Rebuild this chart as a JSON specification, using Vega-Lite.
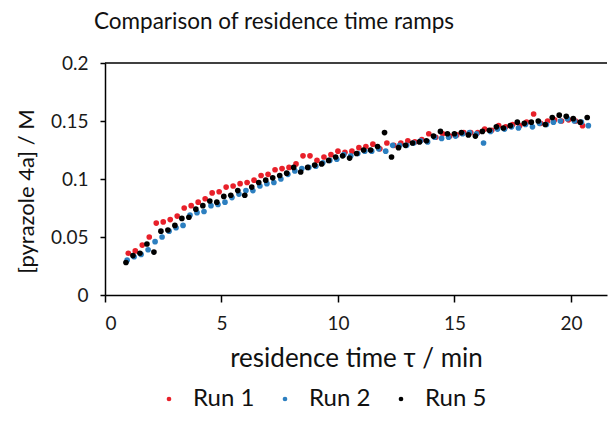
{
  "$schema": "https://vega.github.io/schema/vega-lite/v6.json",
  "width": 502,
  "height": 232,
  "autosize": {"type": "none"},
  "padding": {"left": 105, "top": 63, "right": 3, "bottom": 139},
  "background": "white",
  "title": {"text": "Comparison of residence time ramps", "font": "Lato", "fontSize": 22.5, "fontWeight": "normal", "color": "#111111", "anchor": "middle", "dx": -82, "offset": 21},
  "config": {"view": {"stroke": null}, "font": "Lato"},
  "layer": [
    {
      "data": {"values": [{"edge": "top"}]},
      "mark": {"type": "rule", "color": "black", "strokeWidth": 1.5},
      "encoding": {"y": {"datum": 0.2, "type": "quantitative"}}
    },
    {
      "data": {"values": [
        {"run":"Run 1","t":1.0,"c":0.036},{"run":"Run 1","t":1.3,"c":0.038},{"run":"Run 1","t":1.6,"c":0.043},{"run":"Run 1","t":1.9,"c":0.050},{"run":"Run 1","t":2.2,"c":0.062},{"run":"Run 1","t":2.5,"c":0.063},{"run":"Run 1","t":2.8,"c":0.065},{"run":"Run 1","t":3.1,"c":0.068},{"run":"Run 1","t":3.4,"c":0.075},{"run":"Run 1","t":3.7,"c":0.077},{"run":"Run 1","t":4.0,"c":0.080},{"run":"Run 1","t":4.3,"c":0.083},{"run":"Run 1","t":4.6,"c":0.088},{"run":"Run 1","t":4.9,"c":0.089},{"run":"Run 1","t":5.2,"c":0.093},{"run":"Run 1","t":5.5,"c":0.094},{"run":"Run 1","t":5.8,"c":0.096},{"run":"Run 1","t":6.1,"c":0.097},{"run":"Run 1","t":6.4,"c":0.099},{"run":"Run 1","t":6.7,"c":0.103},{"run":"Run 1","t":7.0,"c":0.104},{"run":"Run 1","t":7.3,"c":0.108},{"run":"Run 1","t":7.6,"c":0.109},{"run":"Run 1","t":7.9,"c":0.110},{"run":"Run 1","t":8.2,"c":0.113},{"run":"Run 1","t":8.5,"c":0.120},{"run":"Run 1","t":8.8,"c":0.120},{"run":"Run 1","t":9.1,"c":0.116},{"run":"Run 1","t":9.4,"c":0.119},{"run":"Run 1","t":9.7,"c":0.121},{"run":"Run 1","t":10.0,"c":0.124},{"run":"Run 1","t":10.3,"c":0.123},{"run":"Run 1","t":10.6,"c":0.124},{"run":"Run 1","t":10.9,"c":0.127},{"run":"Run 1","t":11.2,"c":0.128},{"run":"Run 1","t":11.5,"c":0.130},{"run":"Run 1","t":11.8,"c":0.126},{"run":"Run 1","t":12.1,"c":0.131},{"run":"Run 1","t":12.4,"c":0.129},{"run":"Run 1","t":12.7,"c":0.131},{"run":"Run 1","t":13.0,"c":0.133},{"run":"Run 1","t":13.3,"c":0.132},{"run":"Run 1","t":13.6,"c":0.134},{"run":"Run 1","t":13.9,"c":0.139},{"run":"Run 1","t":14.2,"c":0.136},{"run":"Run 1","t":14.5,"c":0.139},{"run":"Run 1","t":14.8,"c":0.137},{"run":"Run 1","t":15.1,"c":0.138},{"run":"Run 1","t":15.4,"c":0.140},{"run":"Run 1","t":15.7,"c":0.140},{"run":"Run 1","t":16.0,"c":0.140},{"run":"Run 1","t":16.3,"c":0.143},{"run":"Run 1","t":16.6,"c":0.142},{"run":"Run 1","t":16.9,"c":0.146},{"run":"Run 1","t":17.2,"c":0.145},{"run":"Run 1","t":17.5,"c":0.147},{"run":"Run 1","t":17.8,"c":0.146},{"run":"Run 1","t":18.1,"c":0.149},{"run":"Run 1","t":18.4,"c":0.156},{"run":"Run 1","t":18.7,"c":0.148},{"run":"Run 1","t":19.0,"c":0.150},{"run":"Run 1","t":19.3,"c":0.151},{"run":"Run 1","t":19.6,"c":0.150},{"run":"Run 1","t":19.9,"c":0.151},{"run":"Run 1","t":20.2,"c":0.150},{"run":"Run 1","t":20.5,"c":0.146},
        {"run":"Run 2","t":0.95,"c":0.030},{"run":"Run 2","t":1.25,"c":0.033},{"run":"Run 2","t":1.55,"c":0.035},{"run":"Run 2","t":1.85,"c":0.039},{"run":"Run 2","t":2.15,"c":0.046},{"run":"Run 2","t":2.45,"c":0.050},{"run":"Run 2","t":2.75,"c":0.055},{"run":"Run 2","t":3.05,"c":0.058},{"run":"Run 2","t":3.35,"c":0.060},{"run":"Run 2","t":3.65,"c":0.069},{"run":"Run 2","t":3.95,"c":0.071},{"run":"Run 2","t":4.25,"c":0.072},{"run":"Run 2","t":4.55,"c":0.077},{"run":"Run 2","t":4.85,"c":0.078},{"run":"Run 2","t":5.15,"c":0.080},{"run":"Run 2","t":5.45,"c":0.084},{"run":"Run 2","t":5.75,"c":0.087},{"run":"Run 2","t":6.05,"c":0.090},{"run":"Run 2","t":6.35,"c":0.090},{"run":"Run 2","t":6.65,"c":0.094},{"run":"Run 2","t":6.95,"c":0.096},{"run":"Run 2","t":7.25,"c":0.097},{"run":"Run 2","t":7.55,"c":0.100},{"run":"Run 2","t":7.85,"c":0.104},{"run":"Run 2","t":8.15,"c":0.107},{"run":"Run 2","t":8.45,"c":0.109},{"run":"Run 2","t":8.75,"c":0.110},{"run":"Run 2","t":9.05,"c":0.111},{"run":"Run 2","t":9.35,"c":0.114},{"run":"Run 2","t":9.65,"c":0.116},{"run":"Run 2","t":9.95,"c":0.117},{"run":"Run 2","t":10.25,"c":0.121},{"run":"Run 2","t":10.55,"c":0.120},{"run":"Run 2","t":10.85,"c":0.122},{"run":"Run 2","t":11.15,"c":0.124},{"run":"Run 2","t":11.45,"c":0.124},{"run":"Run 2","t":11.75,"c":0.126},{"run":"Run 2","t":12.05,"c":0.124},{"run":"Run 2","t":12.35,"c":0.129},{"run":"Run 2","t":12.65,"c":0.129},{"run":"Run 2","t":12.95,"c":0.129},{"run":"Run 2","t":13.25,"c":0.131},{"run":"Run 2","t":13.55,"c":0.133},{"run":"Run 2","t":13.85,"c":0.132},{"run":"Run 2","t":14.15,"c":0.136},{"run":"Run 2","t":14.45,"c":0.135},{"run":"Run 2","t":14.75,"c":0.136},{"run":"Run 2","t":15.05,"c":0.137},{"run":"Run 2","t":15.35,"c":0.139},{"run":"Run 2","t":15.65,"c":0.140},{"run":"Run 2","t":15.95,"c":0.139},{"run":"Run 2","t":16.25,"c":0.131},{"run":"Run 2","t":16.55,"c":0.141},{"run":"Run 2","t":16.85,"c":0.143},{"run":"Run 2","t":17.15,"c":0.143},{"run":"Run 2","t":17.45,"c":0.145},{"run":"Run 2","t":17.75,"c":0.144},{"run":"Run 2","t":18.05,"c":0.147},{"run":"Run 2","t":18.35,"c":0.145},{"run":"Run 2","t":18.65,"c":0.148},{"run":"Run 2","t":18.95,"c":0.147},{"run":"Run 2","t":19.25,"c":0.149},{"run":"Run 2","t":19.55,"c":0.150},{"run":"Run 2","t":19.85,"c":0.152},{"run":"Run 2","t":20.15,"c":0.150},{"run":"Run 2","t":20.45,"c":0.149},{"run":"Run 2","t":20.75,"c":0.146},
        {"run":"Run 5","t":0.9,"c":0.028},{"run":"Run 5","t":1.2,"c":0.034},{"run":"Run 5","t":1.5,"c":0.036},{"run":"Run 5","t":1.8,"c":0.044},{"run":"Run 5","t":2.1,"c":0.037},{"run":"Run 5","t":2.4,"c":0.055},{"run":"Run 5","t":2.7,"c":0.056},{"run":"Run 5","t":3.0,"c":0.060},{"run":"Run 5","t":3.3,"c":0.066},{"run":"Run 5","t":3.6,"c":0.067},{"run":"Run 5","t":3.9,"c":0.074},{"run":"Run 5","t":4.2,"c":0.077},{"run":"Run 5","t":4.5,"c":0.081},{"run":"Run 5","t":4.8,"c":0.080},{"run":"Run 5","t":5.1,"c":0.085},{"run":"Run 5","t":5.4,"c":0.086},{"run":"Run 5","t":5.7,"c":0.090},{"run":"Run 5","t":6.0,"c":0.086},{"run":"Run 5","t":6.3,"c":0.093},{"run":"Run 5","t":6.6,"c":0.097},{"run":"Run 5","t":6.9,"c":0.099},{"run":"Run 5","t":7.2,"c":0.101},{"run":"Run 5","t":7.5,"c":0.103},{"run":"Run 5","t":7.8,"c":0.105},{"run":"Run 5","t":8.1,"c":0.110},{"run":"Run 5","t":8.4,"c":0.106},{"run":"Run 5","t":8.7,"c":0.110},{"run":"Run 5","t":9.0,"c":0.112},{"run":"Run 5","t":9.3,"c":0.113},{"run":"Run 5","t":9.6,"c":0.116},{"run":"Run 5","t":9.9,"c":0.119},{"run":"Run 5","t":10.2,"c":0.120},{"run":"Run 5","t":10.5,"c":0.118},{"run":"Run 5","t":10.8,"c":0.122},{"run":"Run 5","t":11.1,"c":0.125},{"run":"Run 5","t":11.4,"c":0.125},{"run":"Run 5","t":11.7,"c":0.128},{"run":"Run 5","t":12.0,"c":0.140},{"run":"Run 5","t":12.3,"c":0.119},{"run":"Run 5","t":12.6,"c":0.127},{"run":"Run 5","t":12.9,"c":0.129},{"run":"Run 5","t":13.2,"c":0.131},{"run":"Run 5","t":13.5,"c":0.132},{"run":"Run 5","t":13.8,"c":0.133},{"run":"Run 5","t":14.1,"c":0.137},{"run":"Run 5","t":14.4,"c":0.141},{"run":"Run 5","t":14.7,"c":0.139},{"run":"Run 5","t":15.0,"c":0.139},{"run":"Run 5","t":15.3,"c":0.140},{"run":"Run 5","t":15.6,"c":0.138},{"run":"Run 5","t":15.9,"c":0.137},{"run":"Run 5","t":16.2,"c":0.141},{"run":"Run 5","t":16.5,"c":0.142},{"run":"Run 5","t":16.8,"c":0.145},{"run":"Run 5","t":17.1,"c":0.144},{"run":"Run 5","t":17.4,"c":0.146},{"run":"Run 5","t":17.7,"c":0.149},{"run":"Run 5","t":18.0,"c":0.148},{"run":"Run 5","t":18.3,"c":0.149},{"run":"Run 5","t":18.6,"c":0.150},{"run":"Run 5","t":18.9,"c":0.147},{"run":"Run 5","t":19.2,"c":0.153},{"run":"Run 5","t":19.5,"c":0.155},{"run":"Run 5","t":19.8,"c":0.154},{"run":"Run 5","t":20.1,"c":0.152},{"run":"Run 5","t":20.4,"c":0.149},{"run":"Run 5","t":20.7,"c":0.153}
      ]},
      "mark": {"type": "circle", "size": 32, "opacity": 1},
      "encoding": {
        "x": {"field": "t", "type": "quantitative", "scale": {"domain": [0, 21.55], "nice": false},
          "axis": {"values": [0, 5, 10, 15, 20], "title": "residence time τ / min", "grid": false, "domainColor": "black", "domainWidth": 1.5, "tickColor": "black", "tickWidth": 1.5, "tickSize": 7, "labelFontSize": 19, "labelColor": "#1a1a1a", "labelPadding": 12, "labelFont": "Lato", "titleFont": "Lato", "titleFontSize": 26, "titleFontWeight": "normal", "titleColor": "#111111", "titlePadding": 12}},
        "y": {"field": "c", "type": "quantitative", "scale": {"domain": [0, 0.2], "nice": false},
          "axis": {"values": [0, 0.05, 0.1, 0.15, 0.2], "format": "~g", "title": "[pyrazole 4a] / M", "grid": false, "domainColor": "black", "domainWidth": 1.5, "tickColor": "black", "tickWidth": 1.5, "tickSize": 5, "labelFontSize": 19, "labelColor": "#1a1a1a", "labelPadding": 12, "labelFont": "Lato", "titleFont": "Lato", "titleFontSize": 22, "titleFontWeight": "normal", "titleColor": "#111111", "titlePadding": 12, "titleY": 128}},
        "color": {"field": "run", "type": "nominal", "scale": {"domain": ["Run 1", "Run 2", "Run 5"], "range": ["#E8202A", "#2C7FC0", "#000000"]},
          "legend": {"title": null, "orient": "none", "direction": "horizontal", "legendX": 52, "legendY": 324, "symbolType": "circle", "symbolSize": 22, "labelFontSize": 24, "labelFont": "Lato", "labelColor": "#111111", "labelOffset": 12, "columnPadding": 18}}
      }
    }
  ]
}
